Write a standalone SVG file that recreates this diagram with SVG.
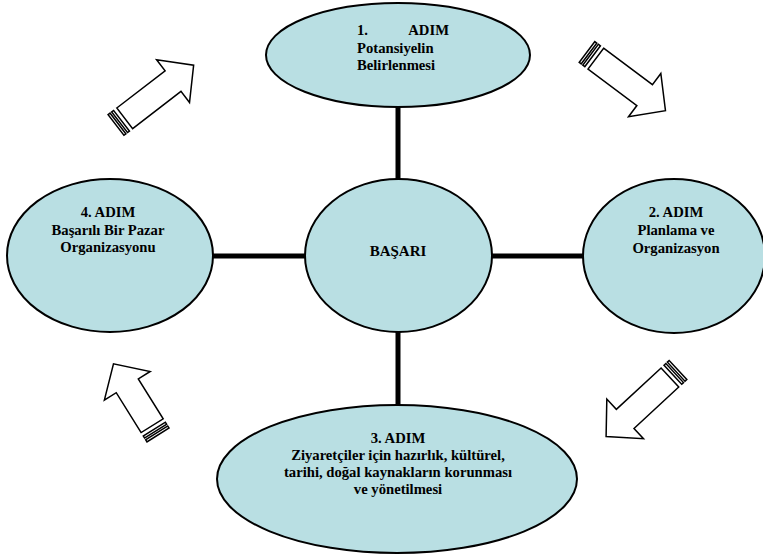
<svg xmlns="http://www.w3.org/2000/svg" width="763" height="557" viewBox="0 0 763 557" font-family="'Liberation Serif','Times New Roman',serif">
<style>
.node ellipse{fill:#B9DFE3;stroke:#000;stroke-width:2}
.conn line{stroke:#000;stroke-width:5}
.arw *{fill:#fff;stroke:#000;stroke-width:1.5;stroke-linejoin:miter}
text{font-family:"Liberation Serif","Times New Roman",serif;font-weight:bold;font-size:14.67px;fill:#000}
.c{text-anchor:middle}
</style>
<defs>
<g id="arrowL">
<rect x="0" y="-13" width="2.5" height="26"/>
<rect x="4.5" y="-13" width="2.5" height="26"/>
<path d="M11,-13 H72 V-27 L98,0 L72,27 V13 H11 Z"/>
</g>
<g id="arrowS">
<rect x="0" y="-13" width="2.5" height="26"/>
<rect x="4.5" y="-13" width="2.5" height="26"/>
<path d="M11,-13 H58 V-27 L84,0 L58,27 V13 H11 Z"/>
</g>
</defs>
<g id="connectors" class="conn">
<line x1="398" y1="100" x2="398" y2="190"/>
<line x1="480" y1="256" x2="590" y2="256"/>
<line x1="398" y1="320" x2="398" y2="415"/>
<line x1="205" y1="256" x2="315" y2="256"/>
</g>
<g id="arrows" class="arw">
<use href="#arrowL" transform="translate(116,125) rotate(-37.6)"/>
<use href="#arrowL" transform="translate(587,52) rotate(36.8)"/>
<use href="#arrowL" transform="translate(678,370) rotate(137.2)"/>
<use href="#arrowS" transform="translate(158,435) rotate(-122)"/>
</g>
<g id="n1" class="node">
<ellipse cx="398" cy="55" rx="132" ry="52"/>
<text x="357" y="35">1.</text>
<text x="449" y="35" text-anchor="end">ADIM</text>
<text x="357" y="52.5">Potansiyelin</text>
<text x="357" y="69.5">Belirlenmesi</text>
</g>
<g id="center" class="node">
<ellipse cx="398.5" cy="255.5" rx="93.5" ry="76.5"/>
<text class="c" x="398" y="256" style="font-size:15px">BAŞARI</text>
</g>
<g id="n2" class="node">
<ellipse cx="674" cy="256" rx="91" ry="77"/>
<text class="c" x="676" y="217">2. ADIM</text>
<text class="c" x="676" y="235">Planlama ve</text>
<text class="c" x="676" y="253">Organizasyon</text>
</g>
<g id="n3" class="node">
<ellipse cx="397" cy="479" rx="180" ry="74"/>
<text class="c" x="398" y="443">3. ADIM</text>
<text class="c" x="398" y="460">Ziyaretçiler için hazırlık, kültürel,</text>
<text class="c" x="398" y="477">tarihi, doğal kaynakların korunması</text>
<text class="c" x="398" y="494">ve yönetilmesi</text>
</g>
<g id="n4" class="node">
<ellipse cx="110" cy="255.5" rx="103" ry="76.5"/>
<text class="c" x="108" y="217">4. ADIM</text>
<text class="c" x="108" y="234.5">Başarılı Bir Pazar</text>
<text class="c" x="108" y="252">Organizasyonu</text>
</g>
</svg>
